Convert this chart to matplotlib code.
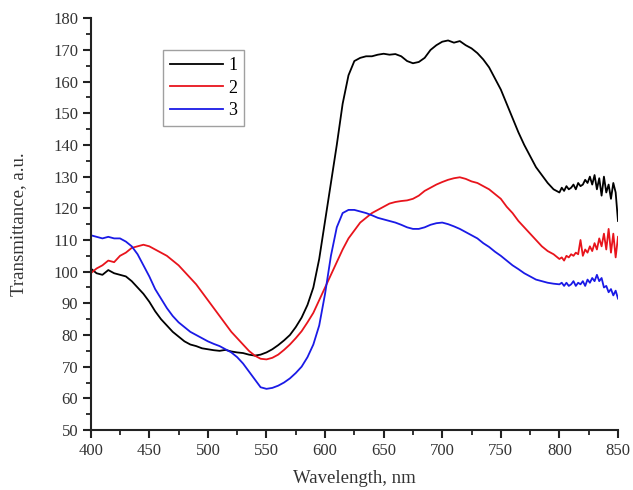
import numpy as np
import matplotlib
matplotlib.use("Agg")
import matplotlib.pyplot as plt
from matplotlib.ticker import MultipleLocator

# wavelength grid: 5 nm steps to 795, 2 nm steps from 800 to 850
wavelength = list(range(400, 800, 5)) + list(range(800, 851, 2))

curve1 = [101, 99.5, 99, 100.5, 99.5, 99, 98.5, 97, 95, 93,
          90.5, 87.5, 85, 83, 81, 79.5, 78, 77, 76.5, 75.8,
          75.5, 75.2, 75, 75.3, 74.8, 74.5, 74.3, 73.8, 73.5, 73.8,
          74.5, 75.5, 76.8, 78.3, 80, 82.5, 85.5, 89.5, 95, 104,
          116, 128, 140, 153, 162, 166.5, 167.5, 168, 168, 168.5,
          168.8, 168.5, 168.7, 168, 166.5, 165.8, 166.2, 167.5, 170, 171.5,
          172.6, 173, 172.3, 172.8, 171.5, 170.5, 169, 167, 164.5, 161,
          157.5, 153, 148.5, 144, 140, 136.5, 133, 130.5, 128, 126,
          125, 126.5, 125.5, 127, 126, 126.5, 127.5, 126, 128, 127,
          127.5, 129, 128, 130, 127.5, 130.5, 126, 129.5, 124, 130,
          125, 127.5, 123, 128, 125, 116]

curve2 = [99.5, 101, 102, 103.5, 103, 105, 106, 107.5, 108, 108.5,
          108, 107, 106, 105, 103.5, 102, 100, 98, 96, 93.5,
          91, 88.5, 86, 83.5, 81, 79, 77, 75, 73.5, 72.5,
          72.3, 72.8, 73.8, 75.3, 77, 79, 81.2, 84, 87, 91,
          95, 99, 103, 107, 110.5, 113, 115.5, 117, 118.5, 119.5,
          120.5, 121.5, 122, 122.3, 122.5, 123, 124, 125.5, 126.5, 127.5,
          128.3, 129, 129.5, 129.8, 129.3, 128.5, 128, 127, 126, 124.5,
          123, 120.5, 118.5, 116, 114, 112, 110, 108, 106.5, 105.5,
          104, 104.5, 103.5, 105, 104.5, 105.5, 105, 106, 105.5, 110,
          105, 107, 106, 108, 106.5, 109, 107, 110.5, 108, 112,
          107, 113.5, 106, 112, 104.5, 111]

curve3 = [111.5, 111, 110.5, 111, 110.5, 110.5, 109.5, 108, 105.5, 102,
          98.5, 94.5, 91.5, 88.5, 86, 84, 82.5, 81, 80, 79,
          78, 77.2, 76.5, 75.5, 74.5, 73, 71, 68.5, 66, 63.5,
          63, 63.3, 64, 65, 66.3, 68, 70, 73, 77, 83,
          93, 105, 114, 118.5, 119.5, 119.5, 119, 118.5, 117.8, 117,
          116.5, 116, 115.5, 114.8, 114, 113.5, 113.5, 114, 114.8, 115.3,
          115.5, 115, 114.3, 113.5, 112.5, 111.5, 110.5, 109, 107.8, 106.3,
          105, 103.5, 102, 100.8, 99.5, 98.5, 97.5, 97, 96.5, 96.2,
          96, 96.5, 95.5, 96.5, 95.5, 96, 97, 95.5, 96.5, 96,
          97, 95.5, 97.5, 96.5, 98, 97, 99, 97, 98, 95,
          95.5, 93.5, 94.5, 92.5, 94, 91.5]

labels = ["1", "2", "3"]
colors = ["#000000", "#e8141c", "#1a1ae6"]

plt.rcParams["font.family"] = ["Liberation Serif", "DejaVu Serif"]

fig = plt.figure(figsize=(6.33, 4.9), dpi=100)
ax = fig.add_axes([0.1433, 0.1224, 0.8330, 0.8403])

for y, lab, c in zip([curve1, curve2, curve3], labels, colors):
    ax.plot(wavelength, y, color=c, lw=1.3, label=lab)

ax.set_xlim(400, 850)
ax.set_ylim(50, 180)
ax.xaxis.set_major_locator(MultipleLocator(50))
ax.xaxis.set_minor_locator(MultipleLocator(25))
ax.yaxis.set_major_locator(MultipleLocator(10))
ax.yaxis.set_minor_locator(MultipleLocator(5))

for side in ["top", "right"]:
    ax.spines[side].set_visible(False)
for side in ["left", "bottom"]:
    ax.spines[side].set_linewidth(1.5)
    ax.spines[side].set_color("#222222")

ax.tick_params(which="major", direction="out", length=6, width=1.5,
               labelsize=12, colors="#222222", labelcolor="#333333", pad=3)
ax.tick_params(which="minor", direction="out", length=3.5, width=1.3,
               colors="#222222")

ax.set_xlabel("Wavelength, nm", fontsize=13.5, color="#333333", labelpad=8)
ax.set_ylabel("Transmittance, a.u.", fontsize=13.5, color="#333333", labelpad=19)

leg = ax.legend(loc="upper left", bbox_to_anchor=(163 / 633, 1 - 50 / 490),
                bbox_transform=fig.transFigure, frameon=True, fancybox=False,
                fontsize=13, handlelength=2.9, handletextpad=0.3,
                labelspacing=0.3, borderpad=0.4, borderaxespad=0)
leg.get_frame().set_edgecolor("#888888")
leg.get_frame().set_linewidth(1.0)

fig.savefig("out.png", dpi=100)
